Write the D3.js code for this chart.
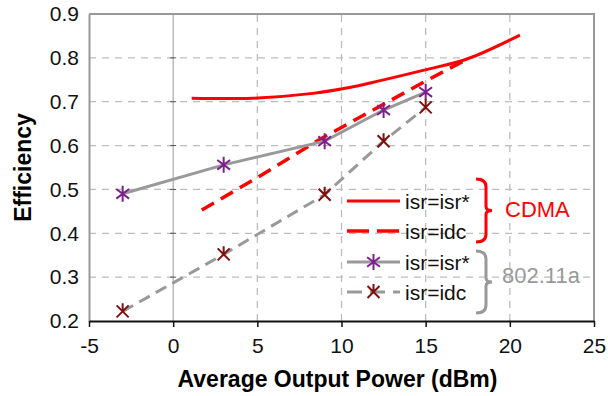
<!DOCTYPE html>
<html>
<head>
<meta charset="utf-8">
<script src="https://cdn.jsdelivr.net/npm/d3@7"></script>
<style>
body{margin:0;background:#fff;}
text{font-family:"Liberation Sans",Arial,sans-serif;}
</style>
</head>
<body>
<script>
// values
const xTicks = [-5, 0, 5, 10, 15, 20, 25];
const yTicks = [0.2, 0.3, 0.4, 0.5, 0.6, 0.7, 0.8, 0.9];

const cdmaIsr = [[1.1,0.708],[4.7,0.708],[8.3,0.719],[10.7,0.734],[12.3,0.748],[14.9,0.772],[17.5,0.798],[20.6,0.852]];
const cdmaIdc = [[1.7,0.453],[5,0.527],[8.7,0.614],[12.3,0.69],[14.9,0.745],[17.6,0.80]];
const wlanIsr = [[-3,0.49],[3,0.556],[9,0.61],[12.5,0.681],[15,0.722]];
const wlanIdc = [[-3,0.222],[3,0.352],[9,0.488],[12.5,0.61],[15,0.687]];

const seriesLabels = ["isr=isr*","isr=idc","isr=isr*","isr=idc"];
const groupLabels = ["CDMA","802.11a"];

let w = 608, h = 396;
const m = {left:89, right:14, top:14, bottom:75};

const svg = d3.select("body").append("svg")
  .attr("width", w).attr("height", h);

const x = d3.scaleLinear().domain([-5,25]).range([m.left, w-m.right]);
const y = d3.scaleLinear().domain([0.2,0.9]).range([h-m.bottom, m.top]);

// grid
svg.append("g").selectAll("line")
  .data(yTicks.slice(1,-1))
  .enter().append("line")
  .attr("x1", x(-5)).attr("x2", x(25))
  .attr("y1", d => y(d)).attr("y2", d => y(d))
  .attr("stroke","#bdbdbd").attr("stroke-width",1.3)
  .attr("stroke-dasharray","7,6");

svg.append("g").selectAll("line")
  .data(xTicks.slice(1,-1))
  .enter().append("line")
  .attr("x1", d => x(d)).attr("x2", d => x(d))
  .attr("y1", y(0.2)).attr("y2", y(0.9))
  .attr("stroke", d => d === 0 ? "#9a9a9a" : "#bdbdbd")
  .attr("stroke-width", d => d === 0 ? 1 : 1.3)
  .attr("stroke-dasharray", d => d === 0 ? null : "7,6");

// small ticks on the zero line
svg.append("g").selectAll("line")
  .data(yTicks.slice(1,-1))
  .enter().append("line")
  .attr("x1", x(0)-3).attr("x2", x(0)+3)
  .attr("y1", d => y(d)).attr("y2", d => y(d))
  .attr("stroke","#555").attr("stroke-width",1);

// frame
svg.append("path")
  .attr("d", `M${x(-5)},${y(0.9)}H${x(25)}V${y(0.2)}`)
  .attr("fill","none").attr("stroke","#999").attr("stroke-width",2);

// axes
const xAxis = d3.axisBottom(x).tickValues(xTicks).tickSize(6).tickPadding(11).tickSizeOuter(0)
  .tickFormat(d => String(d));
const yAxis = d3.axisLeft(y).tickValues(yTicks).tickSize(0).tickPadding(10).tickFormat(d3.format(".1f"));

const gy = svg.append("g")
  .attr("transform","translate("+m.left+",0)")
  .call(yAxis);
gy.select(".domain").attr("stroke","#999").attr("stroke-width",2);
gy.selectAll("text").attr("font-size",21).attr("fill","#111").style("font-family","Liberation Sans");

const gx = svg.append("g")
  .attr("transform","translate(0,"+(h-m.bottom)+")")
  .call(xAxis);
gx.select(".domain").attr("stroke","#111").attr("stroke-width",2);
gx.selectAll(".tick line").attr("stroke","#111").attr("stroke-width",1.5);
gx.selectAll("text").attr("font-size",21).attr("fill","#111").style("font-family","Liberation Sans");

// titles
svg.append("text")
  .attr("x", (m.left + w - m.right)/2 - 4).attr("y", 387)
  .attr("text-anchor","middle")
  .attr("font-size",23).attr("font-weight","bold")
  .text("Average Output Power (dBm)");

svg.append("text")
  .attr("transform","translate(31,"+y(0.55)+") rotate(-90)")
  .attr("text-anchor","middle")
  .attr("font-size",23).attr("font-weight","bold")
  .text("Efficiency");

// series
const smooth = d3.line().x(d => x(d[0])).y(d => y(d[1])).curve(d3.curveCatmullRom);
const straight = d3.line().x(d => x(d[0])).y(d => y(d[1]));

svg.append("path").attr("d", smooth(cdmaIsr))
  .attr("fill","none").attr("stroke","#ff0000").attr("stroke-width",3);
svg.append("path").attr("d", straight(cdmaIdc))
  .attr("fill","none").attr("stroke","#ff0000").attr("stroke-width",3.5)
  .attr("stroke-dasharray","14,8");
svg.append("path").attr("d", straight(wlanIsr))
  .attr("fill","none").attr("stroke","#999").attr("stroke-width",3);
svg.append("path").attr("d", straight(wlanIdc))
  .attr("fill","none").attr("stroke","#999").attr("stroke-width",3)
  .attr("stroke-dasharray","12,7");

function star(g, cx, cy, color){
  const r = 8;
  g.append("path")
    .attr("d", `M${cx},${cy-r}V${cy+r}M${cx-r*0.8},${cy-r*0.6}L${cx+r*0.8},${cy+r*0.6}M${cx-r*0.8},${cy+r*0.6}L${cx+r*0.8},${cy-r*0.6}`)
    .attr("stroke",color).attr("stroke-width",2).attr("fill","none");
}
function star2(g, cx, cy, color){
  const r = 8;
  g.append("path")
    .attr("d", `M${cx},${cy-r}V${cy}M${cx-r*0.75},${cy-r*0.75}L${cx+r*0.75},${cy+r*0.75}M${cx-r*0.75},${cy+r*0.75}L${cx+r*0.75},${cy-r*0.75}`)
    .attr("stroke",color).attr("stroke-width",2).attr("fill","none");
}

const mk = svg.append("g");
wlanIsr.forEach(d => star(mk, x(d[0]), y(d[1]), "#7f1f8f"));
wlanIdc.forEach(d => star2(mk, x(d[0]), y(d[1]), "#7f1010"));

// legend
const lx0 = 347, lx1 = 400, rows = [201, 231, 262, 292];
const lg = svg.append("g");
lg.append("line").attr("x1",lx0).attr("x2",lx1).attr("y1",rows[0]).attr("y2",rows[0])
  .attr("stroke","#ff0000").attr("stroke-width",3);
lg.append("line").attr("x1",lx0).attr("x2",lx1).attr("y1",rows[1]).attr("y2",rows[1])
  .attr("stroke","#ff0000").attr("stroke-width",3.5).attr("stroke-dasharray","22,8");
lg.append("line").attr("x1",lx0).attr("x2",lx1).attr("y1",rows[2]).attr("y2",rows[2])
  .attr("stroke","#999").attr("stroke-width",3);
lg.append("line").attr("x1",lx0).attr("x2",lx1).attr("y1",rows[3]).attr("y2",rows[3])
  .attr("stroke","#999").attr("stroke-width",3).attr("stroke-dasharray","15,8");
star(lg, (lx0+lx1)/2, rows[2], "#7f1f8f");
star2(lg, (lx0+lx1)/2, rows[3], "#7f1010");
lg.selectAll("text.lbl").data(seriesLabels).enter().append("text")
  .attr("class","lbl")
  .attr("x", 405).attr("y", (d,i) => rows[i] + 7.5)
  .attr("font-size",21).attr("fill","#111")
  .text(d => d);

function brace(cy0, cy1, color){
  const x0 = 476, x1 = 486, x2 = 492, r = 8, ym = (cy0+cy1)/2;
  svg.append("path")
    .attr("d", `M${x0},${cy0}Q${x1},${cy0} ${x1},${cy0+r}L${x1},${ym-4}Q${x1},${ym} ${x2},${ym}Q${x1},${ym} ${x1},${ym+4}L${x1},${cy1-r}Q${x1},${cy1} ${x0},${cy1}`)
    .attr("fill","none").attr("stroke",color).attr("stroke-width",3);
}
brace(179, 242, "#ff0000");
brace(251, 313, "#999");

svg.append("text").attr("x",505).attr("y",217)
  .attr("font-size",22).attr("fill","#ff0000").text(groupLabels[0]);
svg.append("text").attr("x",502).attr("y",283)
  .attr("font-size",22).attr("fill","#999").text(groupLabels[1]);
</script>
</body>
</html>
